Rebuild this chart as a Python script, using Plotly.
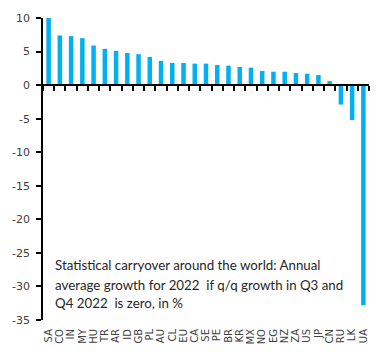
import plotly.graph_objects as go

countries = ["SA", "CO", "IN", "MY", "HU", "TR", "AR", "ID", "GB", "PL", "AU", "CL", "EU", "CA",
             "SE", "PE", "BR", "KR", "MX", "NO", "EG", "NZ", "ZA", "US", "JP", "CN", "RU", "LK", "UA"]
carryover = [10.0, 7.4, 7.3, 7.0, 5.9, 5.4, 5.1, 4.8, 4.6, 4.2, 3.6, 3.3, 3.3, 3.2,
             3.2, 3.0, 2.9, 2.7, 2.6, 2.1, 2.0, 2.0, 1.8, 1.7, 1.5, 0.6, -2.9, -5.2, -32.8]
y_ticks = [10, 5, 0, -5, -10, -15, -20, -25, -30, -35]
y_tick_labels = [str(v) for v in y_ticks]
title_lines = ["Statistical carryover around the world: Annual",
               "average growth for 2022  if q/q growth in Q3 and",
               "Q4 2022  is zero, in %"]

y_min, y_max = -35, 10

fig = go.Figure()
fig.add_trace(go.Bar(x=countries, y=carryover, marker_color="#00B0F0",
                     marker_line_width=0, showlegend=False))
# invisible trace for the zero-crossing axis
fig.add_trace(go.Bar(x=countries, y=[None] * len(countries), xaxis="x2",
                     showlegend=False, hoverinfo="skip"))

line_y = [0.181, 0.116, 0.057]
annotations = [dict(text=t, xref="paper", yref="paper", x=0.03, y=yy,
                    xanchor="left", yanchor="middle", align="left", showarrow=False,
                    font=dict(family="Lato", size=13.3, color="#262626"))
               for t, yy in zip(title_lines, line_y)]

fig.update_layout(
    width=384, height=359,
    margin=dict(l=42, r=15, t=16, b=39),
    paper_bgcolor="white", plot_bgcolor="white",
    bargap=0.6,
    font=dict(family="DejaVu Sans", size=11, color="#404040"),
    xaxis=dict(type="category", categoryorder="array", categoryarray=countries,
               tickmode="array", tickvals=countries, ticktext=countries,
               showline=False, ticks="", tickangle=-90, showgrid=False,
               ticklabelstandoff=6,
               tickfont=dict(family="DejaVu Sans", size=10, color="#404040"),
               zeroline=False, ticklen=0),
    xaxis2=dict(type="category", categoryorder="array", categoryarray=countries,
                tickmode="array", tickvals=countries,
                overlaying="x", anchor="free",
                position=(0 - y_min) / (y_max - y_min),
                showline=True, linecolor="black", linewidth=1.5,
                ticks="outside", tickson="boundaries", ticklen=5, tickcolor="black",
                tickwidth=1.5, showticklabels=False, showgrid=False, zeroline=False),
    yaxis=dict(range=[y_min, y_max], tickmode="array", tickvals=y_ticks,
               ticktext=y_tick_labels, showgrid=False, zeroline=False,
               showline=True, linecolor="black", linewidth=1.5,
               ticks="outside", ticklen=5, tickcolor="black", tickwidth=1.5,
               ticklabelstandoff=4,
               tickfont=dict(family="DejaVu Sans", size=11, color="#404040")),
    annotations=annotations,
)

fig.write_html("out.html")
